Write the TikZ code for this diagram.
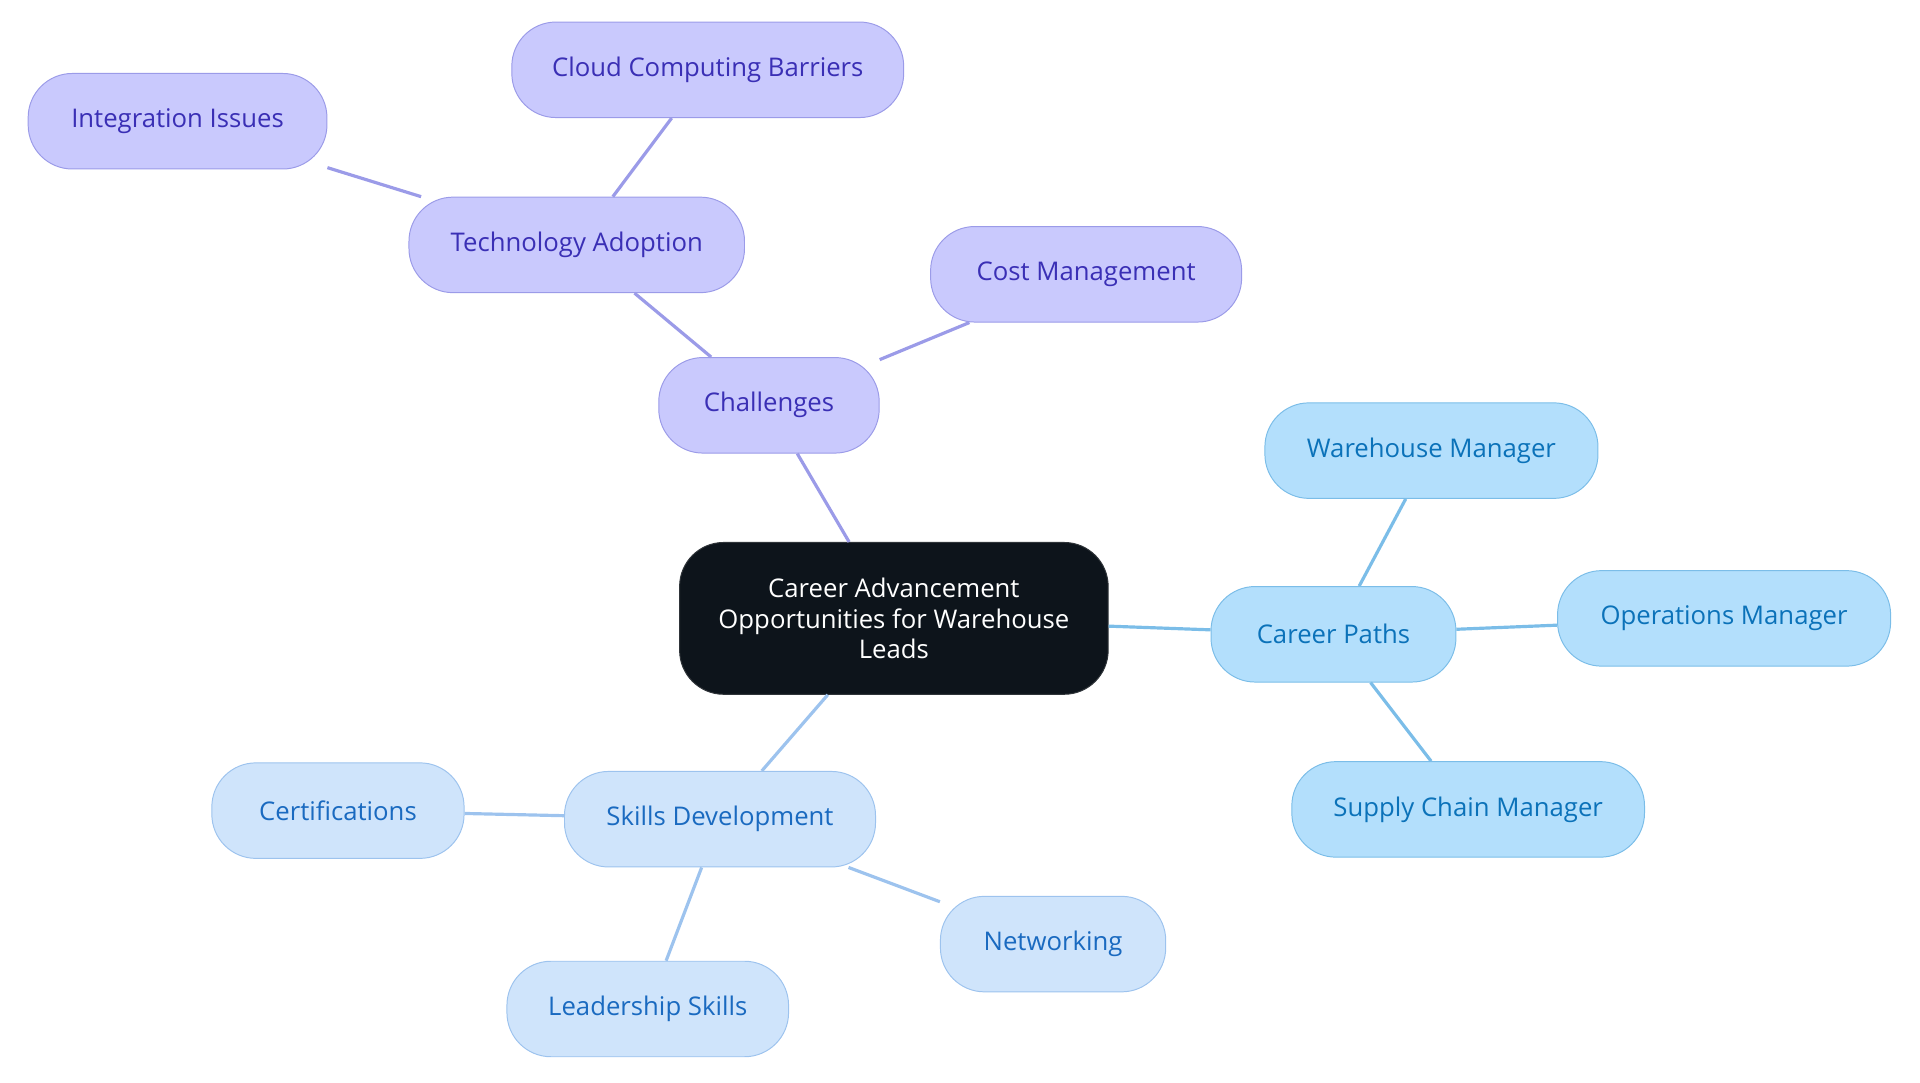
\documentclass[tikz,border=0pt]{standalone}
\usepackage{fontspec}
\setmainfont{Open Sans}
\definecolor{rootfill}{HTML}{0D141B}
\definecolor{purfill}{HTML}{C9C9FD}
\definecolor{purline}{HTML}{9B9BE8}
\definecolor{purtext}{HTML}{3A2FB5}
\definecolor{bluefill}{HTML}{B3DFFC}
\definecolor{blueline}{HTML}{7BBDE8}
\definecolor{bluetext}{HTML}{0B72B9}
\definecolor{skyfill}{HTML}{CFE4FB}
\definecolor{skyline}{HTML}{9DC3EE}
\definecolor{skytext}{HTML}{1A6AC0}
\begin{document}
\begin{tikzpicture}[
        x=0.5pt, y=-0.5pt,
        box/.style={rounded corners=18pt, minimum height=39pt, inner sep=0pt,
            font=\fontsize{10.5}{12.5}\selectfont},
        root/.style={box, fill=rootfill, draw=rootfill!70!gray, text=white,
            minimum width=175pt, minimum height=62pt, align=center},
        chal/.style={box, fill=purfill, draw=purline, text=purtext},
        path/.style={box, fill=bluefill, draw=blueline, text=bluetext},
        skill/.style={box, fill=skyfill, draw=skyline, text=skytext},
        link/.style={line width=1.3pt}
    ]
        \useasboundingbox (0,0) rectangle (1568,884);

        % Root
        \node[root] (Root) at (730,505) {Career Advancement\\Opportunities for Warehouse\\Leads};

        % Challenges
        \node[chal, minimum width=90pt] (Chal) at (628,331) {Challenges};
        \node[chal, minimum width=137pt] (Tech) at (471,200) {Technology Adoption};
        \node[chal, minimum width=160pt] (Cloud) at (578,57) {Cloud Computing Barriers};
        \node[chal, minimum width=122pt] (Integ) at (145,99) {Integration Issues};
        \node[chal, minimum width=127pt] (Cost) at (887,224) {Cost Management};

        % Career Paths
        \node[path, minimum width=100pt] (Paths) at (1089,518) {Career Paths};
        \node[path, minimum width=136pt] (WhMgr) at (1169,368) {Warehouse Manager};
        \node[path, minimum width=136pt] (OpMgr) at (1408,505) {Operations Manager};
        \node[path, minimum width=144pt] (ScMgr) at (1199,661) {Supply Chain Manager};

        % Skills Development
        \node[skill, minimum width=127pt] (Skills) at (588,669) {Skills Development};
        \node[skill, minimum width=103pt] (Cert) at (276,662) {Certifications};
        \node[skill, minimum width=115pt] (Lead) at (529,824) {Leadership Skills};
        \node[skill, minimum width=92pt] (Net) at (860,771) {Networking};

        % Links
        \begin{scope}[on background layer/.style={}]
        \draw[link, purline] (Root) -- (Chal);
        \draw[link, purline] (Chal) -- (Tech);
        \draw[link, purline] (Chal) -- (Cost);
        \draw[link, purline] (Tech) -- (Cloud);
        \draw[link, purline] (Tech) -- (Integ);
        \draw[link, blueline] (Root) -- (Paths);
        \foreach \n in {WhMgr,OpMgr,ScMgr}
            \draw[link, blueline] (Paths) -- (\n);
        \draw[link, skyline] (Root) -- (Skills);
        \foreach \n in {Cert,Lead,Net}
            \draw[link, skyline] (Skills) -- (\n);
        \end{scope}
    \end{tikzpicture}
\end{document}
